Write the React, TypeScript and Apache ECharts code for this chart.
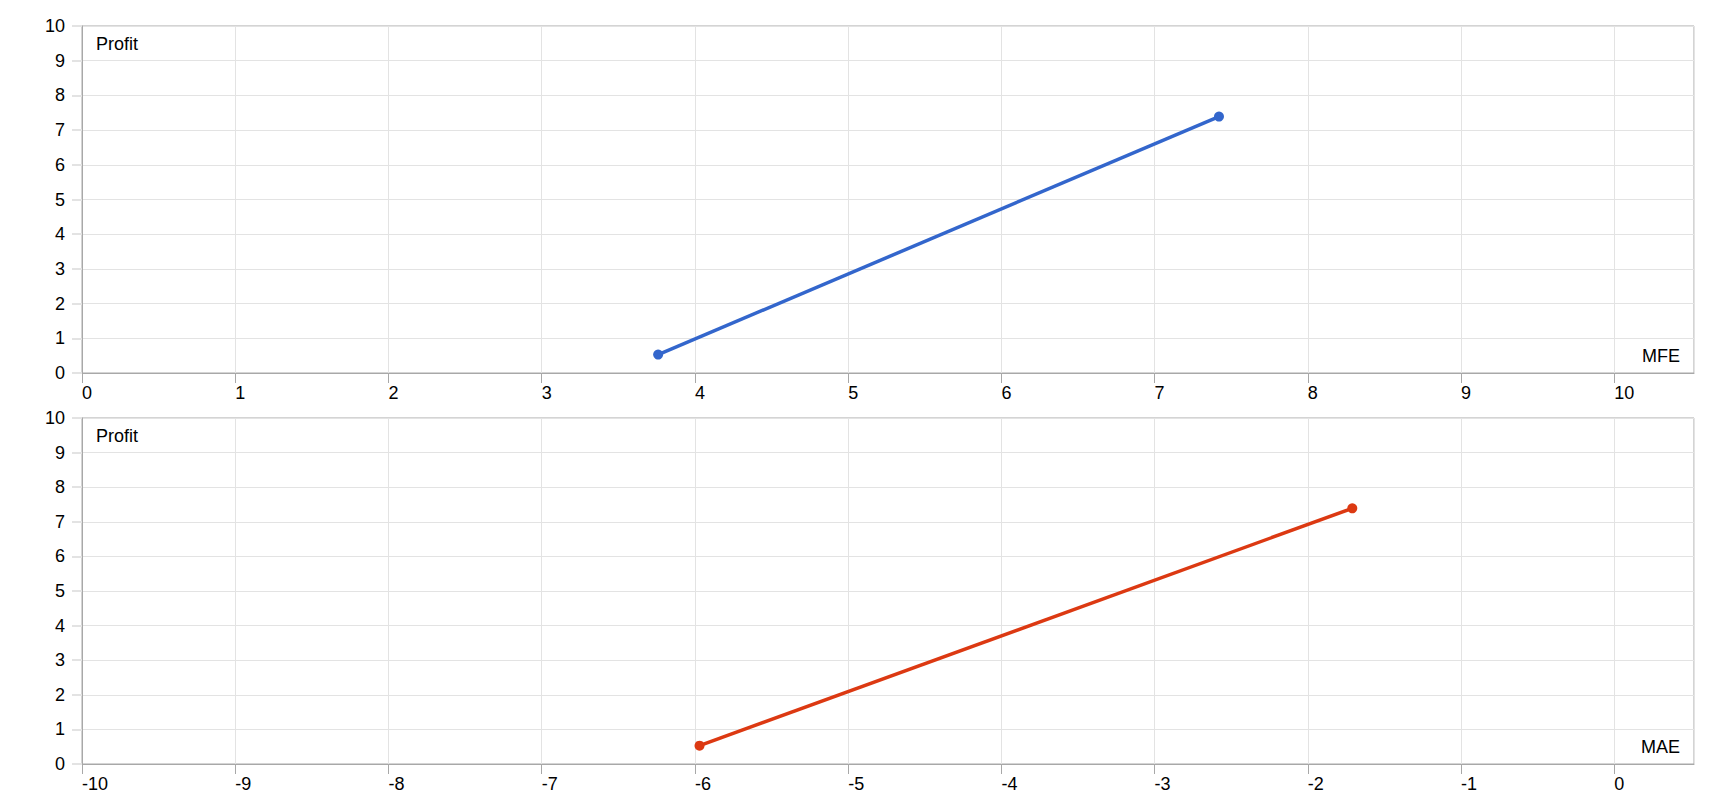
import React, { useEffect, useRef } from "react";
import * as echarts from "echarts";

const profit = [0.53, 7.39];
const mfe = [3.76, 7.42];
const mae = [-5.97, -1.71];
const yTitle = "Profit";
const topXTitle = "MFE";
const bottomXTitle = "MAE";

const FONT = "Arial, 'Liberation Sans', sans-serif";
const GRID_COLOR = "#e3e3e3";
const AXIS_COLOR = "#a8a8a8";

function xAxis(gridIndex: number, min: number, max: number) {
  return {
    type: "value",
    gridIndex,
    min,
    max,
    interval: 1,
    axisLine: { show: true, onZero: false, lineStyle: { color: AXIS_COLOR } },
    axisTick: { show: true, length: 10, lineStyle: { color: AXIS_COLOR } },
    axisLabel: {
      show: true,
      align: "left",
      margin: 11,
      color: "#000",
      fontSize: 18,
      fontFamily: FONT,
      showMaxLabel: false,
      formatter: (v: number) => (Math.abs(v - Math.round(v)) < 1e-6 ? String(Math.round(v)) : ""),
    },
    splitLine: { show: true, lineStyle: { color: GRID_COLOR } },
  };
}

function yAxis(gridIndex: number) {
  return {
    type: "value",
    gridIndex,
    min: 0,
    max: 10,
    interval: 1,
    axisLine: { show: true, onZero: false, lineStyle: { color: AXIS_COLOR } },
    axisTick: { show: true, length: 10, lineStyle: { color: GRID_COLOR, width: 2 } },
    axisLabel: { margin: 17, color: "#000", fontSize: 18, fontFamily: FONT },
    splitLine: { show: true, lineStyle: { color: GRID_COLOR } },
  };
}

export default function App() {
  const ref = useRef<HTMLDivElement>(null);
  useEffect(() => {
    if (!ref.current) return;
    const chart = echarts.init(ref.current, undefined, { renderer: "svg" });
    const topData = mfe.map((x, i) => [x, profit[i]]);
    const botData = mae.map((x, i) => [x, profit[i]]);
    chart.setOption({
      animation: false,
      backgroundColor: "#fff",
      textStyle: { fontFamily: FONT },
      grid: [
        { left: 82, top: 26, width: 1612, height: 347, show: true, borderColor: AXIS_COLOR, borderWidth: 1 },
        { left: 82, top: 418, width: 1612, height: 346, show: true, borderColor: AXIS_COLOR, borderWidth: 1 },
      ],
      xAxis: [xAxis(0, 0, 10.52), xAxis(1, -10, 0.52)],
      yAxis: [yAxis(0), yAxis(1)],
      series: [
        {
          type: "line",
          xAxisIndex: 0,
          yAxisIndex: 0,
          data: topData,
          color: "#3366cc",
          lineStyle: { width: 3.5 },
          symbol: "circle",
          symbolSize: 10,
          showAllSymbol: true,
        },
        {
          type: "line",
          xAxisIndex: 1,
          yAxisIndex: 1,
          data: botData,
          color: "#dc3912",
          lineStyle: { width: 3.5 },
          symbol: "circle",
          symbolSize: 10,
          showAllSymbol: true,
        },
      ],
      graphic: [
        { type: "text", left: 96, top: 35, style: { text: yTitle, fontSize: 18, fontFamily: FONT, fill: "#000" } },
        { type: "text", left: 96, top: 427, style: { text: yTitle, fontSize: 18, fontFamily: FONT, fill: "#000" } },
        { type: "text", right: 40, top: 347, style: { text: topXTitle, fontSize: 18, fontFamily: FONT, fill: "#000" } },
        { type: "text", right: 40, top: 738, style: { text: bottomXTitle, fontSize: 18, fontFamily: FONT, fill: "#000" } },
      ],
    });
    return () => chart.dispose();
  }, []);
  return (
    <div
      ref={ref}
      style={{ position: "fixed", left: 0, top: 0, width: 1720, height: 800, background: "#fff" }}
    />
  );
}
